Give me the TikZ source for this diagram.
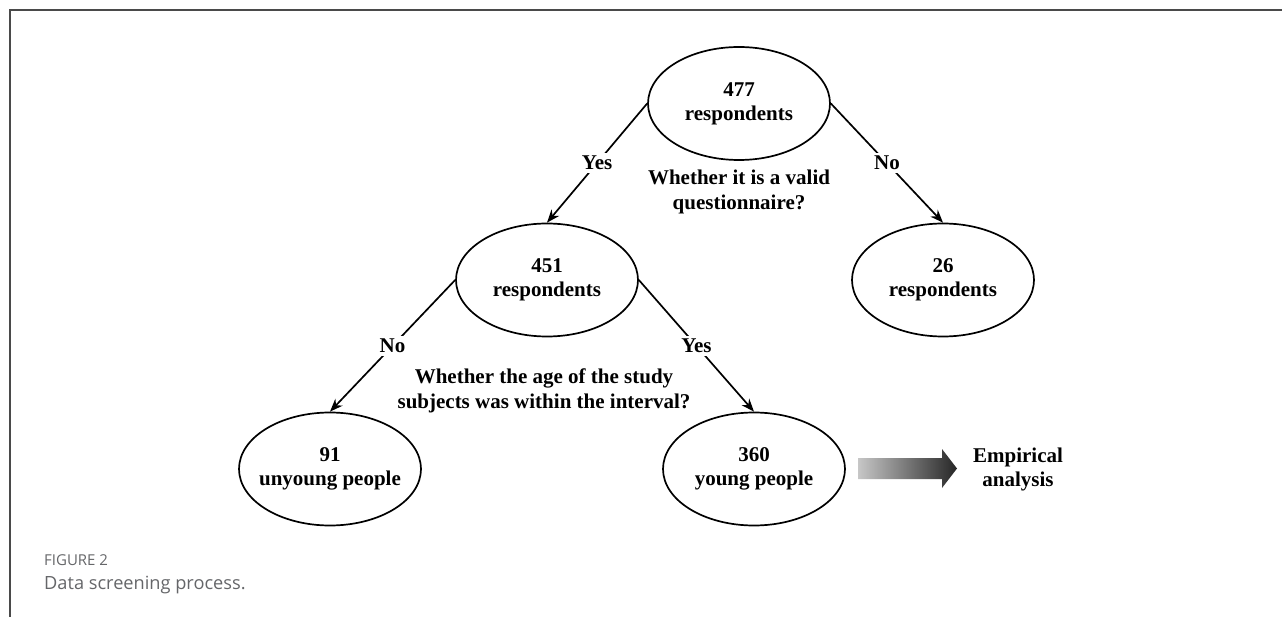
\documentclass[tikz,border=0pt]{standalone}
\usepackage{fontspec}
\setmainfont{Liberation Serif}
\newfontfamily\capfont{Open Sans}
\usetikzlibrary{shapes.geometric,arrows.meta}
\definecolor{framegray}{HTML}{4A4A4A}
\definecolor{capgray}{HTML}{656669}
\begin{document}
\begin{tikzpicture}[x=1pt,y=-1pt,
  diagfont/.style={font=\bfseries\fontsize{21}{24}\selectfont},
  oval/.style={ellipse, draw, line width=1.7pt, minimum width=182pt, minimum height=113pt, inner sep=0pt},
  ovaltext/.style={align=center, inner sep=0pt, diagfont},
  conn/.style={line width=1.7pt, -{Stealth[length=13pt,width=10pt]}},
  lbl/.style={fill=white, inner sep=3pt, diagfont},
  qtext/.style={align=center, inner sep=0pt, font=\bfseries\fontsize{21}{25}\selectfont},
  captext/.style={anchor=base west, inner sep=0pt, text=capgray}]
\useasboundingbox (0,0) rectangle (1282,617);
\draw[framegray, line width=2pt] (10,617) -- (10,10) -- (1282,10);

\node[oval] (n477) at (739,103.5) {};
\node[oval] (n451) at (547,280) {};
\node[oval] (n26) at (943,280) {};
\node[oval] (n91) at (330,469) {};
\node[oval] (n360) at (754,469) {};
\node[ovaltext] (t477) at (n477) {477\\respondents};
\node[ovaltext] (t451) at (n451) {451\\respondents};
\node[ovaltext] (t26) at (n26) {26\\respondents};
\node[ovaltext] (t91) at (n91) {91\\unyoung people};
\node[ovaltext] (t360) at (n360) {360\\young people};

\draw[conn] (n477.west) -- node[lbl] {Yes} (n451.north);
\draw[conn] (n477.east) -- node[lbl] {No} (n26.north);
\draw[conn] (n451.west) -- node[lbl] {No} (n91.north);
\draw[conn] (n451.east) -- node[lbl] {Yes} (n360.north);

\node[qtext] (q1) at (739,192) {Whether it is a valid\\questionnaire?};
\node[qtext] (q2) at (544,391) {Whether the age of the study\\subjects was within the interval?};

\shade[left color=black!22, right color=black!85]
  (858,458) -- (942,458) -- (942,449) -- (957,468.5) -- (942,488) -- (942,479) -- (858,479) -- cycle;
\node[align=center, inner sep=0pt, diagfont] (emp) at (1018,469) {Empirical\\analysis};

\node[captext, font=\capfont\fontsize{15}{18}\selectfont] (figlabel) at (44,565.5) {FIGURE 2};
\node[captext, font=\capfont\fontsize{18.2}{21}\selectfont] (caption) at (44,589) {Data screening process.};
\end{tikzpicture}
\end{document}
